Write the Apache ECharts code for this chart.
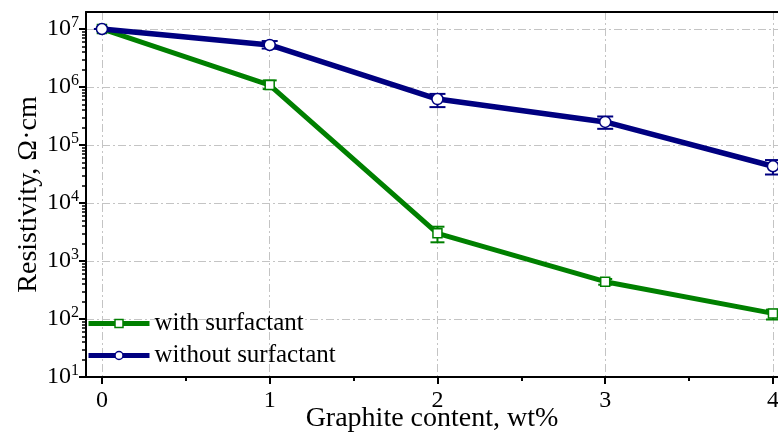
<!DOCTYPE html>
<html>
<head>
<meta charset="utf-8">
<script src="https://cdn.jsdelivr.net/npm/echarts@6/dist/echarts.min.js"></script>
<style>html,body{margin:0;padding:0;background:#fff;}#c{width:778px;height:434px;}</style>
</head>
<body>
<div id="c"></div>
<script>
// ---- data ----
const xValues = [0, 1, 2, 3, 4];
const xTickLabels = ['0', '1', '2', '3', '4'];
const withSurf = [1.0e7, 1.08e6, 3.0e3, 440, 125];
const withSurfLow = [1.0e7, 9.2e5, 2.1e3, 390, 98];
const withSurfHigh = [1.0e7, 1.3e6, 3.9e3, 490, 145];
const withoutSurf = [1.0e7, 5.3e6, 6.2e5, 2.5e5, 4.3e4];
const withoutSurfLow = [1.0e7, 4.6e6, 4.5e5, 1.9e5, 3.1e4];
const withoutSurfHigh = [1.0e7, 6.2e6, 7.6e5, 3.1e5, 5.5e4];
const yTicks = [10, 100, 1e3, 1e4, 1e5, 1e6, 1e7];
const xMinorTicks = [0.5, 1.5, 2.5, 3.5];
const seriesNames = ['with surfactant', 'without surfactant'];

const FONT = "'Liberation Serif', 'Times New Roman', serif";
const GREEN = '#008000';
const BLUE = '#000080';

const yMinorTicks = [];
for (let k = 1; k < 7; k++) for (let m = 2; m <= 9; m++) yMinorTicks.push(m * Math.pow(10, k));

function pairs(ys) { return xValues.map((x, i) => [x, ys[i]]); }
function errData(lo, hi) { return xValues.map((x, i) => [x, lo[i], hi[i]]); }
function errRender(color, cap) {
  return function (params, api) {
    const x = api.value(0);
    const p1 = api.coord([x, api.value(1)]);
    const p2 = api.coord([x, api.value(2)]);
    const st = { stroke: color, lineWidth: 2 };
    return {
      type: 'group',
      children: [
        { type: 'line', shape: { x1: p1[0], y1: p1[1], x2: p2[0], y2: p2[1] }, style: st },
        { type: 'line', shape: { x1: p1[0] - cap / 2, y1: p1[1], x2: p1[0] + cap / 2, y2: p1[1] }, style: st },
        { type: 'line', shape: { x1: p2[0] - cap / 2, y1: p2[1], x2: p2[0] + cap / 2, y2: p2[1] }, style: st }
      ]
    };
  };
}

const gridLine = { show: true, lineStyle: { color: '#c4c4c4', width: 1, type: [8, 3, 2, 3] } };

const option = {
  animation: false,
  backgroundColor: '#fff',
  grid: { left: 86, top: 12, right: 0, bottom: 57, containLabel: false, outerBoundsMode: 'none' },
  legend: {
    orient: 'vertical', left: 86, top: 311, padding: 0,
    itemWidth: 61, itemHeight: 10, itemGap: 7,
    data: seriesNames,
    lineStyle: { width: 5 },
    itemStyle: { borderWidth: 1.5 },
    textStyle: { fontFamily: FONT, fontSize: 25, color: '#000' }
  },
  xAxis: [
    {
      type: 'value', min: -0.095, max: 4.03,
      name: 'Graphite content, wt%', nameLocation: 'middle', nameGap: 28, nameMoveOverlap: false,
      nameTextStyle: { fontFamily: FONT, fontSize: 28, color: '#000' },
      axisLine: { show: true, onZero: false, lineStyle: { color: '#000', width: 2 } },
      axisTick: { show: true, inside: false, length: 7, lineStyle: { color: '#000', width: 2 }, customValues: xValues },
      axisLabel: { customValues: xValues, formatter: v => xTickLabels[xValues.indexOf(v)], margin: 12, fontFamily: FONT, fontSize: 24, color: '#000' },
      splitLine: gridLine
    },
    {
      type: 'value', min: -0.095, max: 4.03, position: 'bottom',
      axisLine: { show: false, onZero: false },
      axisTick: { show: true, length: 4, lineStyle: { color: '#000', width: 2 }, customValues: xMinorTicks },
      axisLabel: { show: false },
      splitLine: { show: false }
    },
    {
      type: 'value', min: -0.095, max: 4.03, position: 'top',
      axisLine: { show: true, onZero: false, lineStyle: { color: '#000', width: 2 } },
      axisTick: { show: false }, axisLabel: { show: false }, splitLine: { show: false }
    }
  ],
  yAxis: [
    {
      type: 'log', logBase: 10, min: 10, max: 1.963e7,
      name: 'Resistivity, \u03A9\u00B7cm', nameLocation: 'middle', nameGap: 43, nameMoveOverlap: false,
      nameTextStyle: { fontFamily: FONT, fontSize: 28, color: '#000' },
      axisLine: { show: true, onZero: false, lineStyle: { color: '#000', width: 2 } },
      axisTick: { show: true, inside: false, length: 7, lineStyle: { color: '#000', width: 2 }, customValues: yTicks },
      axisLabel: {
        customValues: yTicks, margin: 7,
        formatter: v => '{b|10}{s|' + Math.round(Math.log10(v)) + '}',
        rich: {
          b: { fontFamily: FONT, fontSize: 24, color: '#000', lineHeight: 28 },
          s: { fontFamily: FONT, fontSize: 16, color: '#000', verticalAlign: 'top', lineHeight: 16 }
        }
      },
      splitLine: gridLine
    },
    {
      type: 'log', logBase: 10, min: 10, max: 1.963e7, position: 'left',
      axisLine: { show: false, onZero: false },
      axisTick: { show: true, length: 4, lineStyle: { color: '#000', width: 1.5 }, customValues: yMinorTicks },
      axisLabel: { show: false },
      splitLine: { show: false }
    }
  ],
  series: [
    {
      name: seriesNames[0], type: 'line', data: pairs(withSurf),
      symbol: 'rect', symbolSize: 9, showAllSymbol: true,
      lineStyle: { color: GREEN, width: 5 },
      itemStyle: { color: '#fff', borderColor: GREEN, borderWidth: 1.5 },
      z: 3
    },
    {
      type: 'custom', renderItem: errRender(GREEN, 14), data: errData(withSurfLow, withSurfHigh),
      z: 2, silent: true
    },
    {
      name: seriesNames[1], type: 'line', data: pairs(withoutSurf),
      symbol: 'circle', symbolSize: 11, showAllSymbol: true,
      lineStyle: { color: BLUE, width: 5.5 },
      itemStyle: { color: '#fff', borderColor: BLUE, borderWidth: 1.5 },
      z: 5
    },
    {
      type: 'custom', renderItem: errRender(BLUE, 16), data: errData(withoutSurfLow, withoutSurfHigh),
      z: 4, silent: true
    }
  ]
};

const chart = echarts.init(document.getElementById('c'));
chart.setOption(option);
</script>
</body>
</html>
